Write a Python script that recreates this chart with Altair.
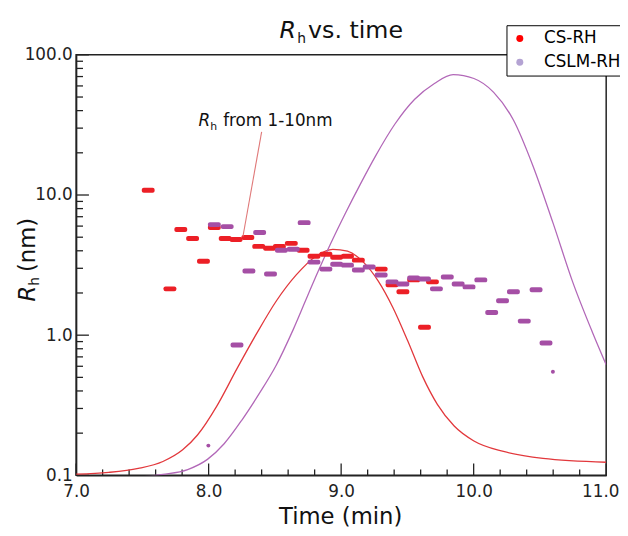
import altair as alt
import pandas as pd

# ---------------- data ----------------
cs_t = [7.544, 7.708, 7.790, 7.879, 7.961, 8.043, 8.125, 8.207, 8.296, 8.378,
        8.460, 8.534, 8.624, 8.713, 8.795, 8.885, 8.966, 9.048, 9.130, 9.302,
        9.384, 9.466, 9.547, 9.629, 9.689]
cs_rh = [10.8, 2.14, 5.67, 4.90, 3.37, 5.86, 4.90, 4.82, 4.98, 4.30,
         4.17, 4.30, 4.52, 4.03, 3.66, 3.78, 3.60, 3.66, 3.43, 2.96,
         2.29, 2.04, 2.48, 1.14, 2.40]

cslm_t = [8.043, 8.140, 8.214, 8.304, 8.385, 8.467, 8.549, 8.639, 8.721, 8.795,
          8.885, 8.966, 9.048, 9.130, 9.212, 9.302, 9.384, 9.466, 9.547, 9.629,
          9.719, 9.801, 9.883, 9.965, 10.054, 10.136, 10.218, 10.300, 10.382,
          10.471, 10.546]
cslm_rh = [6.15, 5.95, 0.851, 2.87, 5.40, 2.73, 4.03, 4.10, 6.35, 3.32,
           2.96, 3.21, 3.16, 2.92, 3.06, 2.69, 2.40, 2.32, 2.56, 2.52,
           2.14, 2.60, 2.32, 2.21, 2.48, 1.45, 1.76, 2.04, 1.26,
           2.11, 0.879]

dot_t = [7.998, 10.598]
dot_rh = [0.163, 0.548]

cs_curve_t = [7.000, 7.246, 7.469, 7.655, 7.804, 7.916, 8.065, 8.214, 8.363, 8.512,
              8.661, 8.810, 8.937, 9.048, 9.168, 9.279, 9.391, 9.503, 9.615, 9.726,
              9.853, 10.002, 10.225, 10.523, 11.000]
cs_curve_rh = [0.102, 0.105, 0.112, 0.1255, 0.152, 0.194, 0.316, 0.577, 1.03, 1.76,
               2.69, 3.66, 4.10, 3.97, 3.32, 2.44, 1.57, 0.908, 0.506, 0.321,
               0.225, 0.176, 0.148, 0.132, 0.124]

cslm_curve_t = [7.469, 7.655, 7.842, 7.991, 8.117, 8.251, 8.378, 8.512, 8.639, 8.788,
                8.922, 9.034, 9.145, 9.257, 9.406, 9.555, 9.704, 9.845, 10.002,
                10.151, 10.300, 10.449, 10.598, 10.747, 10.896, 11.000]
cslm_curve_rh = [0.097, 0.1016, 0.110, 0.130, 0.168, 0.248, 0.378, 0.615, 1.10, 2.36,
                 4.52, 7.47, 11.96, 18.8, 32.1, 48.2, 62.5, 72.3, 67.8,
                 54.0, 34.3, 16.0, 6.35, 2.40, 1.05, 0.615]

annot_t = [8.400, 8.259]
annot_rh = [28.2, 5.06]

x_major = [7, 8, 9, 10, 11]
x_minor = [7.2, 7.4, 7.6, 7.8, 8.2, 8.4, 8.6, 8.8, 9.2, 9.4, 9.6, 9.8,
           10.2, 10.4, 10.6, 10.8]
y_major = [0.1, 1, 10, 100]
y_minor = [0.2, 0.3, 0.4, 0.5, 0.6, 0.7, 0.8, 0.9,
           2, 3, 4, 5, 6, 7, 8, 9,
           20, 30, 40, 50, 60, 70, 80, 90]

series = ["CS-RH", "CSLM-RH"]
legend_colors = ["#ff0000", "#b4a3d3"]

RED = "#ec1f26"
PURPLE = "#a54fa5"
RED_LINE = "#e2383c"
PURPLE_LINE = "#b268b8"
FONT = "DejaVu Sans"

# ---------------- scales / axes ----------------
xs = alt.Scale(domain=[7, 11], nice=False, zero=False)
ys = alt.Scale(type="log", domain=[0.1, 100], nice=False)

x_axis = alt.Axis(values=x_major, format=".1f", ticks=False, tickSize=0, grid=False,
                  domainColor="#222", domainWidth=1.5, labelFont=FONT, labelFontSize=17,
                  labelColor="#222", labelPadding=8, labelFlush=False, title=None,
                  labelOffset={"condition": {"test": "datum.value >= 11", "value": -6}, "value": 0})
y_axis = alt.Axis(values=y_major, format=".1f", ticks=False, tickSize=0, grid=False,
                  domainColor="#222", domainWidth=1.5, labelFont=FONT, labelFontSize=17,
                  labelColor="#222", labelPadding=4, labelFlush=False, title=None)

cs_df = pd.DataFrame({"t": cs_t, "rh": cs_rh})
cslm_df = pd.DataFrame({"t": cslm_t, "rh": cslm_rh})
dot_df = pd.DataFrame({"t": dot_t, "rh": dot_rh})
cs_curve_df = pd.DataFrame({"t": cs_curve_t, "rh": cs_curve_rh})
cslm_curve_df = pd.DataFrame({"t": cslm_curve_t, "rh": cslm_curve_rh})
annot_df = pd.DataFrame({"t": annot_t, "rh": annot_rh})


def X():
    return alt.X("t:Q", scale=xs, axis=x_axis)


def Y():
    return alt.Y("rh:Q", scale=ys, axis=y_axis)


# ---------------- tick marks (pointing inside) ----------------
xmaj = alt.Chart(pd.DataFrame({"t": x_major})).mark_rule(color="#222", strokeWidth=1.3).encode(
    x=X(), y=alt.value(426), y2=alt.value(414))
xmin = alt.Chart(pd.DataFrame({"t": x_minor})).mark_rule(color="#222", strokeWidth=1.3).encode(
    x=X(), y=alt.value(426), y2=alt.value(420))
ymaj = alt.Chart(pd.DataFrame({"rh": y_major})).mark_rule(color="#222", strokeWidth=1.3).encode(
    y=Y(), x=alt.value(0), x2=alt.value(13))
ymin = alt.Chart(pd.DataFrame({"rh": y_minor})).mark_rule(color="#222", strokeWidth=1.3).encode(
    y=Y(), x=alt.value(0), x2=alt.value(7))

# ---------------- curves ----------------
cs_curve = alt.Chart(cs_curve_df).mark_line(color=RED_LINE, strokeWidth=1.3,
                                             interpolate="monotone", clip=True).encode(x=X(), y=Y())
cslm_curve = alt.Chart(cslm_curve_df).mark_line(color=PURPLE_LINE, strokeWidth=1.3,
                                                 interpolate="monotone", clip=True).encode(x=X(), y=Y())

# ---------------- dashes ----------------
cs_marks = alt.Chart(cs_df).mark_tick(orient="horizontal", size=13, thickness=5, cornerRadius=2,
                                      opacity=1, color=RED).encode(x=X(), y=Y())
cslm_marks = alt.Chart(cslm_df).mark_tick(orient="horizontal", size=13, thickness=5, cornerRadius=2,
                                          opacity=1, color=PURPLE).encode(x=X(), y=Y())
dots = alt.Chart(dot_df).mark_circle(size=16, opacity=1, color=PURPLE).encode(x=X(), y=Y())

annot_line = alt.Chart(annot_df).mark_line(color="#e07878", strokeWidth=1.1).encode(x=X(), y=Y())


# ---------------- text pieces ----------------
def label(text, px, py, size, italic=False, angle=0, align="left"):
    kw = dict(text=text, font=FONT, fontSize=size, align=align, baseline="alphabetic",
              color="#111", angle=angle)
    if italic:
        kw["fontStyle"] = "italic"
    return alt.Chart(alt.Data(values=[{"k": 0}])).mark_text(**kw).encode(
        x=alt.value(px), y=alt.value(py))


texts = [
    # title  "R_h vs. time"
    label("R", 206, -17, 24, italic=True),
    label("h", 224, -12, 14),
    label("vs. time", 235, -17, 24),
    # y title  "R_h (nm)"
    label("R", -42, 250, 23, italic=True, angle=270),
    label("h", -38, 234, 14, angle=270),
    label("(nm)", -42, 220, 23, angle=270),
    # x title
    label("Time (min)", 268, 475, 23, align="center"),
    # annotation
    label("R", 124, 72, 17, italic=True),
    label("h", 136, 76, 11),
    label("from 1-10nm", 149, 72, 17),
]

# ---------------- legend carrier ----------------
legend_layer = alt.Chart(pd.DataFrame({"series": series})).mark_point(
    filled=True, size=0).encode(
    x=alt.value(0), y=alt.value(0),
    color=alt.Color("series:N", scale=alt.Scale(domain=series, range=legend_colors),
                    legend=alt.Legend(title=None, orient="none", legendX=436, legendY=-30,
                                      strokeColor="black", fillColor="white", padding=5,
                                      symbolType="circle", symbolSize=50, symbolStrokeWidth=0,
                                      symbolOpacity=1, labelFont=FONT, labelFontSize=17,
                                      labelColor="black", labelOffset=16, rowPadding=6)))

chart = alt.layer(
    xmaj, xmin, ymaj, ymin, cs_curve, cslm_curve, cs_marks, cslm_marks, dots, annot_line,
    *texts, legend_layer
).properties(
    width=537, height=426,
    autosize=alt.AutoSizeParams(type="none"),
    padding={"left": 69, "top": 44, "right": 14, "bottom": 58},
).configure_view(stroke="#222", strokeWidth=1.5)

chart.save("out.html", embed_options={"renderer": "svg", "actions": False})
